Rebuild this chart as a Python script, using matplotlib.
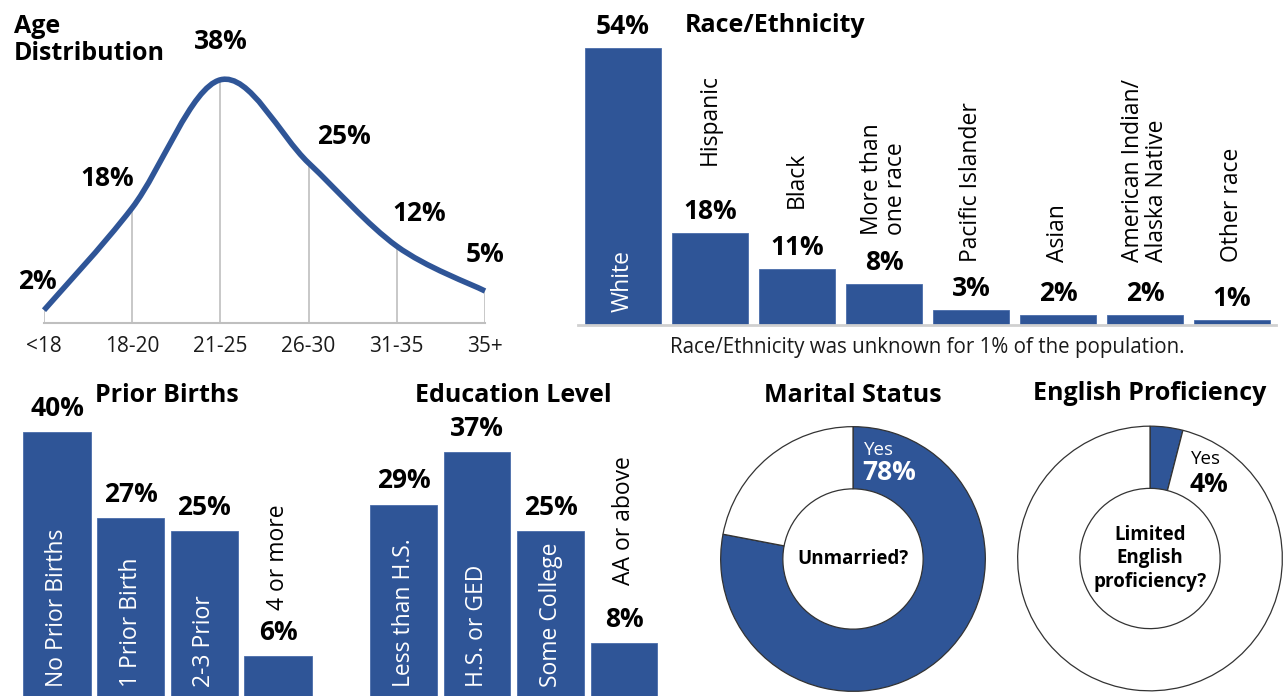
import matplotlib
matplotlib.use("Agg")
import matplotlib.pyplot as plt
from matplotlib.path import Path
from matplotlib.patches import PathPatch

plt.rcParams['font.family'] = ['Open Sans', 'DejaVu Sans']

# ---------------- data ----------------
age_groups = ['<18', '18-20', '21-25', '26-30', '31-35', '35+']
age_pct = [2, 18, 38, 25, 12, 5]

race_groups = ['White', 'Hispanic', 'Black', 'More than\none race', 'Pacific Islander',
               'Asian', 'American Indian/\nAlaska Native', 'Other race']
race_pct = [54, 18, 11, 8, 3, 2, 2, 1]

births_groups = ['No Prior Births', '1 Prior Birth', '2-3 Prior', '4 or more']
births_pct = [40, 27, 25, 6]

edu_groups = ['Less than H.S.', 'H.S. or GED', 'Some College', 'AA or above']
edu_pct = [29, 37, 25, 8]

marital_yes = 78
english_yes = 4

BLUE = '#2F5597'
GRID = '#BFBFBF'
W, H = 1284, 696
PCT_FS = 19
NAME_FS = 16.5
TITLE_FS = 18

fig = plt.figure(figsize=(W / 100, H / 100), dpi=100)


def add_ax(x0, y0, x1, y1):
    ax = fig.add_axes([x0 / W, 1 - y1 / H, (x1 - x0) / W, (y1 - y0) / H])
    ax.set_axis_off()
    return ax


def ftext(x, y, s, **kw):
    return fig.text(x / W, 1 - y / H, s, **kw)


# ---------------- Age distribution (smoothed line) ----------------
ax = add_ax(44, 35, 485, 323)
ax.set_xlim(0, 5)
ax.set_ylim(0, 45)
xs = list(range(len(age_pct)))
pts = list(zip(xs, age_pct))
verts = [pts[0]]
codes = [Path.MOVETO]
n = len(pts)
for i in range(n - 1):
    p0 = pts[max(i - 1, 0)]
    p1 = pts[i]
    p2 = pts[i + 1]
    p3 = pts[min(i + 2, n - 1)]
    c1 = (p1[0] + (p2[0] - p0[0]) / 6, p1[1] + (p2[1] - p0[1]) / 6)
    c2 = (p2[0] - (p3[0] - p1[0]) / 6, p2[1] - (p3[1] - p1[1]) / 6)
    verts += [c1, c2, p2]
    codes += [Path.CURVE4] * 3
ax.vlines(xs, 0, age_pct, color=GRID, lw=1.2, zorder=1)
ax.plot([0, 5], [0, 0], color=GRID, lw=1.5, clip_on=False, zorder=1)
ax.add_patch(PathPatch(Path(verts, codes), fill=False, edgecolor=BLUE, lw=4.0,
                       capstyle='butt', clip_on=False, zorder=3))
age_lbl_off = [(-7, 29), (-25, 29), (0, 38), (35, 26), (22, 33), (0, 37)]
for i, (v, off) in enumerate(zip(age_pct, age_lbl_off)):
    ax.annotate(f"{v}%", (i, v), xytext=(off[0] * 0.72, off[1] * 0.72),
                textcoords='offset points', ha='center', va='center',
                fontsize=PCT_FS, fontweight='bold', annotation_clip=False)
for i, g in enumerate(age_groups):
    ax.text(i, -3.75, g, ha='center', va='center', fontsize=15, color='#1a1a1a')
ftext(14, 40, 'Age\nDistribution', ha='left', va='center', fontsize=TITLE_FS,
      fontweight='bold', linespacing=1.1)

# ---------------- Race / Ethnicity ----------------
ax = add_ax(578, 25, 1276, 325)
ax.set_xlim(-0.517, 7.506)
ax.set_ylim(0, 300 / 5.13)
rx = list(range(len(race_pct)))
ax.bar(rx, race_pct, width=0.87, color=BLUE, edgecolor='#4A6DAA', lw=0.6, zorder=2)
ax.plot([-0.517, 7.506], [0, 0], color='#D0D0D0', lw=2, clip_on=False, zorder=3)
race_name_y = [None, 31.2, 22.8, 17.5, 12.3, 12.3, 12.3, 12.3]
for i, (g, v) in enumerate(zip(race_groups, race_pct)):
    ax.text(i, v + 4.2, f"{v}%", ha='center', va='center', fontsize=PCT_FS,
            fontweight='bold', clip_on=False)
    if race_name_y[i] is None:
        ax.text(i, 2.5, g, ha='center', va='bottom', rotation=90, color='white',
                fontsize=NAME_FS)
    else:
        ax.text(i, race_name_y[i], g, ha='center', va='bottom', rotation=90,
                fontsize=NAME_FS, multialignment='left', linespacing=1.0)
ftext(685, 25, 'Race/Ethnicity', ha='left', va='center', fontsize=TITLE_FS,
      fontweight='bold')
ftext(927, 347, 'Race/Ethnicity was unknown for 1% of the population.',
      ha='center', va='center', fontsize=14.8, color='#1a1a1a')


# ---------------- Prior births & education ----------------
def small_bars(x0, x1, xlim, groups, vals, title, title_x, above_gap):
    ax = add_ax(x0, 380, x1, 696)
    ax.set_xlim(*xlim)
    ax.set_ylim(0, 316 / 6.6)
    bx = list(range(len(vals)))
    ax.bar(bx, vals, width=0.91, color=BLUE, edgecolor='#4A6DAA', lw=0.6)
    for i, (g, v) in enumerate(zip(groups, vals)):
        ax.text(i, v + 3.6, f"{v}%", ha='center', va='center', fontsize=PCT_FS,
                fontweight='bold', clip_on=False)
        if v > 15:
            ax.text(i, 1.4, g, ha='center', va='bottom', rotation=90,
                    color='white', fontsize=NAME_FS)
        else:
            ax.text(i, v + above_gap, g, ha='center', va='bottom', rotation=90,
                    fontsize=NAME_FS)
    ftext(title_x, 396, title, ha='center', va='center', fontsize=TITLE_FS,
          fontweight='bold')


small_bars(20, 315, (-0.502, 3.502), births_groups, births_pct, 'Prior Births', 167, 7.0)
small_bars(367, 661, (-0.497, 3.503), edu_groups, edu_pct, 'Education Level', 513, 8.8)


# ---------------- donuts ----------------
def donut(cx, cy, r, yes, center_label, title, title_y, yes_pos, yes_color):
    ax = fig.add_axes([(cx - r) / W, 1 - (cy + r) / H, 2 * r / W, 2 * r / H])
    ax.pie([yes, 100 - yes], colors=[BLUE, 'white'], startangle=90,
           counterclock=False, radius=1,
           wedgeprops=dict(width=0.47, edgecolor='#333333', linewidth=0.9))
    ax.set_xlim(-1.005, 1.005)
    ax.set_ylim(-1.005, 1.005)
    ax.set_aspect('equal')
    ax.set_axis_off()
    ax.text(0, 0, center_label, ha='center', va='center', fontsize=13.5,
            fontweight='bold', linespacing=1.25)
    ax.text(yes_pos[0], yes_pos[1], 'Yes', ha='left', va='center', fontsize=13.5,
            color=yes_color)
    ax.text(yes_pos[0] - 0.01, yes_pos[2], f"{yes}%", ha='left', va='center',
            fontsize=PCT_FS, fontweight='bold', color=yes_color)
    ftext(cx, title_y, title, ha='center', va='center', fontsize=TITLE_FS,
          fontweight='bold')


donut(853, 559, 133, marital_yes, 'Unmarried?', 'Marital Status', 396,
      (0.083, 0.82, 0.65), 'white')
donut(1150, 558.5, 133, english_yes, 'Limited\nEnglish\nproficiency?',
      'English Proficiency', 394, (0.31, 0.75, 0.56), 'black')

fig.savefig('out.png', dpi=100)
